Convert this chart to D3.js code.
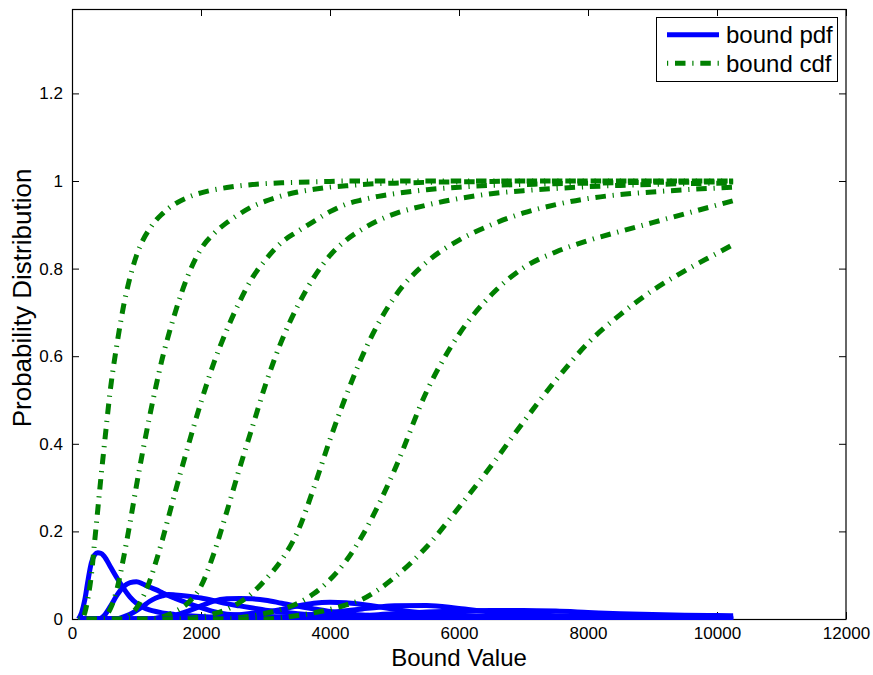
<!DOCTYPE html>
<html>
<head>
<meta charset="utf-8">
<script src="https://cdn.jsdelivr.net/npm/d3@7"></script>
<style>
  html, body { margin: 0; padding: 0; background: #fff; }
  text { font-family: "Liberation Sans", Arial, Helvetica, sans-serif; fill: #000; }
</style>
</head>
<body>
<svg id="chart" width="873" height="675"></svg>
<script>
// ---------------- data ----------------
const boundValues = [100,150,200,250,300,350,400,450,500,600,700,800,900,1000,1100,1200,1300,1400,1500,1600,1800,2000,2200,2400,2600,2800,3000,3250,3500,3750,4000,4250,4500,4750,5000,5500,6000,6500,7000,7500,8000,8500,9000,9500,10000,10250];

const pdf1 = [0,0.015,0.045,0.09,0.128,0.146,0.151,0.15,0.143,0.118,0.093,0.07,0.05,0.036,0.027,0.021,0.017,0.014,0.012,0.01,0.0075,0.0055,0.004,0.003,0.0022,0.0016,0.0012,0.0008,0.0006,0.0004,0.0003,0.0002,0.0001,0.0001,0,0,0,0,0,0,0,0,0,0,0,0];
const cdf1 = [0,0,0.015,0.05,0.10,0.175,0.25,0.325,0.395,0.53,0.63,0.715,0.78,0.83,0.865,0.89,0.91,0.925,0.938,0.948,0.963,0.973,0.98,0.985,0.989,0.992,0.994,0.996,0.997,0.998,0.999,1,1,1,1,1,1,1,1,1,1,1,1,1,1,1];

const pdf2 = [0,0,0,0,0,0,0,0.002,0.008,0.03,0.055,0.074,0.083,0.085,0.08,0.073,0.067,0.06,0.053,0.047,0.036,0.026,0.017,0.011,0.009,0.007,0.0055,0.0045,0.003,0.0024,0.0018,0.0013,0.001,0.0008,0.0006,0.0004,0.0002,0.0001,0,0,0,0,0,0,0,0];
const cdf2 = [0,0,0,0,0,0,0,0,0.004,0.025,0.07,0.14,0.22,0.305,0.385,0.46,0.53,0.595,0.65,0.70,0.785,0.845,0.88,0.905,0.925,0.942,0.954,0.966,0.975,0.981,0.986,0.989,0.992,0.994,0.995,0.997,0.998,0.999,1,1,1,1,1,1,1,1];

const pdf3 = [0,0,0,0,0,0,0,0,0,0,0,0.005,0.011,0.019,0.029,0.04,0.048,0.053,0.056,0.055,0.052,0.048,0.042,0.035,0.03,0.025,0.02,0.016,0.012,0.009,0.0075,0.0058,0.0045,0.0035,0.003,0.0018,0.0012,0.0008,0.0006,0.0004,0.0003,0.0002,0.0002,0.0001,0.0001,0.0001];
const cdf3 = [0,0,0,0,0,0,0,0,0,0,0,0.003,0.01,0.025,0.05,0.085,0.13,0.18,0.235,0.29,0.395,0.495,0.585,0.66,0.725,0.78,0.82,0.86,0.885,0.908,0.93,0.947,0.957,0.965,0.971,0.98,0.986,0.99,0.992,0.994,0.995,0.996,0.997,0.997,0.998,0.998];

const pdf4 = [0,0,0,0,0,0,0,0,0,0,0,0,0,0,0,0,0.002,0.004,0.006,0.009,0.018,0.03,0.041,0.046,0.047,0.046,0.043,0.036,0.029,0.023,0.017,0.012,0.009,0.007,0.005,0.0035,0.0025,0.0018,0.0012,0.0009,0.0007,0.0005,0.0004,0.0003,0.0002,0.0002];
const cdf4 = [0,0,0,0,0,0,0,0,0,0,0,0,0,0,0,0,0.002,0.005,0.01,0.017,0.037,0.075,0.15,0.245,0.345,0.44,0.535,0.635,0.715,0.78,0.83,0.865,0.89,0.91,0.925,0.945,0.96,0.971,0.978,0.983,0.987,0.99,0.992,0.994,0.995,0.996];

const pdf5 = [0,0,0,0,0,0,0,0,0,0,0,0,0,0,0,0,0,0,0,0,0.001,0.002,0.0045,0.007,0.01,0.013,0.016,0.022,0.03,0.036,0.038,0.037,0.033,0.028,0.022,0.013,0.0085,0.006,0.0045,0.0033,0.0023,0.0015,0.0012,0.0009,0.0008,0.0007];
const cdf5 = [0,0,0,0,0,0,0,0,0,0,0,0,0,0,0,0,0,0,0,0,0.002,0.005,0.012,0.022,0.038,0.06,0.09,0.135,0.2,0.3,0.41,0.51,0.6,0.675,0.735,0.815,0.865,0.9,0.927,0.946,0.96,0.969,0.975,0.98,0.984,0.986];

const pdf6 = [0,0,0,0,0,0,0,0,0,0,0,0,0,0,0,0,0,0,0,0,0,0,0,0.0008,0.0015,0.0025,0.0035,0.0045,0.007,0.011,0.015,0.019,0.023,0.027,0.03,0.031,0.024,0.016,0.011,0.0075,0.0055,0.0045,0.0042,0.004,0.004,0.004];
const cdf6 = [0,0,0,0,0,0,0,0,0,0,0,0,0,0,0,0,0,0,0,0,0,0,0,0.001,0.003,0.007,0.013,0.022,0.036,0.058,0.09,0.133,0.19,0.26,0.34,0.52,0.65,0.74,0.802,0.838,0.864,0.885,0.905,0.925,0.945,0.955];

const pdf7 = [0,0,0,0,0,0,0,0,0,0,0,0,0,0,0,0,0,0,0,0,0,0,0,0,0,0,0,0.0015,0.002,0.0028,0.0035,0.0045,0.007,0.01,0.012,0.016,0.0185,0.0195,0.0195,0.018,0.015,0.012,0.01,0.0085,0.0078,0.0075];
const cdf7 = [0,0,0,0,0,0,0,0,0,0,0,0,0,0,0,0,0,0,0,0,0,0,0,0,0,0,0,0.003,0.008,0.014,0.022,0.032,0.045,0.067,0.095,0.165,0.255,0.35,0.45,0.545,0.63,0.695,0.75,0.795,0.835,0.855];

const pdfSeries = [pdf1, pdf2, pdf3, pdf4, pdf5, pdf6, pdf7];
const cdfSeries = [cdf1, cdf2, cdf3, cdf4, cdf5, cdf6, cdf7];

const xTicks = [0, 2000, 4000, 6000, 8000, 10000, 12000];
const yTicks = [0, 0.2, 0.4, 0.6, 0.8, 1, 1.2];
const legendLabels = ["bound pdf", "bound cdf"];
const xLabel = "Bound Value";
const yLabel = "Probability Distribution";

// ---------------- drawing ----------------
const svg = d3.select("#chart");
const L = 72, R = 846, T = 9, B = 619;
const x = d3.scaleLinear().domain([0, 12000]).range([L, R]);
const y = d3.scaleLinear().domain([0, 1.3927]).range([B, T]);

const PDF_COLOR = "#0000ff", CDF_COLOR = "#008000";
const CDF_DASH = "1.2,6.8,10.5,6.8";

// axes with inward ticks
const fmtY = d => String(+d.toFixed(1));
const gB = svg.append("g").attr("transform", `translate(0,${B})`)
  .call(d3.axisBottom(x).tickValues(xTicks).tickFormat(d3.format("d")).tickSizeInner(-7).tickSizeOuter(0).tickPadding(8));
const gT = svg.append("g").attr("transform", `translate(0,${T})`)
  .call(d3.axisTop(x).tickValues(xTicks).tickFormat("").tickSizeInner(-7).tickSizeOuter(0));
const gL = svg.append("g").attr("transform", `translate(${L},0)`)
  .call(d3.axisLeft(y).tickValues(yTicks).tickFormat(fmtY).tickSizeInner(-7).tickSizeOuter(0).tickPadding(9));
const gR = svg.append("g").attr("transform", `translate(${R},0)`)
  .call(d3.axisRight(y).tickValues(yTicks).tickFormat("").tickSizeInner(-7).tickSizeOuter(0));
[gB, gT, gL, gR].forEach(g => {
  g.select(".domain").remove();
  g.selectAll(".tick line").attr("stroke", "#000").attr("stroke-width", 1);
  g.selectAll("text").style("font-size", "17px").attr("fill", "#000");
});

svg.append("rect")
  .attr("x", L + 0.5).attr("y", T + 0.5)
  .attr("width", R - L - 0.5).attr("height", B - T)
  .attr("fill", "none").attr("stroke", "#000").attr("stroke-width", 1.2);

// axis labels
svg.append("text")
  .attr("x", (L + R) / 2).attr("y", 666)
  .attr("text-anchor", "middle").style("font-size", "24px")
  .text(xLabel);
svg.append("text")
  .attr("transform", `translate(31,298) rotate(-90)`)
  .attr("text-anchor", "middle").style("font-size", "26px")
  .text(yLabel);

// clip
svg.append("clipPath").attr("id", "plotClip")
  .append("rect").attr("x", L).attr("y", T).attr("width", R - L).attr("height", B - T + 1);

const line = d3.line()
  .x(d => x(d[0])).y(d => y(d[1]))
  .curve(d3.curveMonotoneX);

const plot = svg.append("g").attr("clip-path", "url(#plotClip)");
for (let i = 0; i < pdfSeries.length; i++) {
  const pdfPts = boundValues.map((b, j) => [b, pdfSeries[i][j]]);
  const cdfPts = boundValues.map((b, j) => [b, cdfSeries[i][j]]);
  plot.append("path").attr("d", line(pdfPts))
    .attr("fill", "none").attr("stroke", PDF_COLOR).attr("stroke-width", 5)
    .attr("stroke-linejoin", "round");
  plot.append("path").attr("d", line(cdfPts))
    .attr("fill", "none").attr("stroke", CDF_COLOR).attr("stroke-width", 5)
    .attr("stroke-dasharray", CDF_DASH);
}

// legend
const lg = svg.append("g");
lg.append("rect").attr("x", 656.5).attr("y", 17.5).attr("width", 181).attr("height", 64)
  .attr("fill", "#fff").attr("stroke", "#000").attr("stroke-width", 1);
const rows = [34.7, 63.3];
legendLabels.forEach((lab, i) => {
  const ln = lg.append("line").attr("x1", 667).attr("x2", 719)
    .attr("y1", rows[i]).attr("y2", rows[i])
    .attr("stroke-width", 5);
  if (i === 0) ln.attr("stroke", PDF_COLOR);
  else ln.attr("stroke", CDF_COLOR).attr("stroke-dasharray", CDF_DASH);
  lg.append("text").attr("x", 726).attr("y", rows[i] + 8.5)
    .style("font-size", "24px").text(lab);
});
</script>
</body>
</html>
